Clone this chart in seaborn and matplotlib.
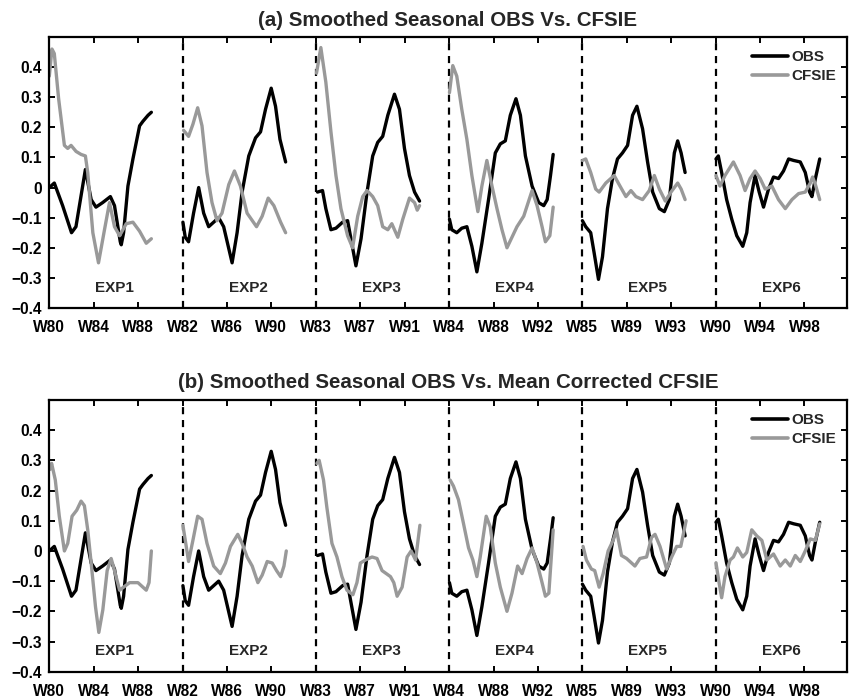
import numpy as np
import pandas as pd
import matplotlib
matplotlib.use("Agg")
import matplotlib.pyplot as plt
from matplotlib.lines import Line2D
import seaborn as sns

# ---------------- data ----------------
EXPERIMENTS = ["EXP1", "EXP2", "EXP3", "EXP4", "EXP5", "EXP6"]
EXP_START_WEEK = [80, 82, 83, 84, 85, 90]
SEGMENT_WEEKS = 12
TICK_OFFSETS = [0, 4, 8]

OBS_W = [
    [0, 0.45, 1.2, 2.0, 2.4, 3.25, 3.77, 4.2, 4.8, 5.5, 5.87, 6.39, 6.48, 6.69, 7.08, 7.53, 8.13, 8.43, 8.89, 9.19],
    [0.03, 0.24, 0.54, 0.99, 1.45, 1.9, 2.35, 2.8, 3.25, 3.7, 4.46, 4.91, 5.36, 5.96, 6.57, 7.02, 7.47, 7.98, 8.37, 8.77, 9.28],
    [0.15, 0.6, 0.9, 1.36, 1.81, 2.41, 2.86, 3.16, 3.61, 4.07, 4.61, 5.12, 5.57, 6.02, 6.48, 7.08, 7.53, 7.98, 8.43, 8.89, 9.34],
    [0.03, 0.24, 0.69, 1.14, 1.6, 2.05, 2.5, 2.95, 3.55, 4.16, 4.61, 5.06, 5.51, 6.02, 6.42, 6.87, 7.47, 8.07, 8.52, 8.83, 9.13, 9.37],
    [0, 0.3, 0.75, 1.05, 1.45, 1.81, 2.26, 2.71, 3.16, 3.61, 4.07, 4.52, 4.91, 5.42, 5.87, 6.33, 6.93, 7.38, 7.83, 8.28, 8.58, 8.89, 9.25],
    [0.03, 0.24, 0.54, 0.99, 1.45, 1.9, 2.44, 2.8, 3.1, 3.55, 3.92, 4.31, 4.76, 5.21, 5.66, 6.11, 6.57, 7.02, 7.62, 8.07, 8.46, 8.67, 8.98, 9.37],
]
OBS_V = [
    [0.0, 0.015, -0.06, -0.15, -0.13, 0.06, -0.04, -0.065, -0.05, -0.03, -0.06, -0.18, -0.19, -0.15, 0.005, 0.095, 0.205, 0.22, 0.24, 0.25],
    [-0.115, -0.165, -0.18, -0.085, 0.0, -0.085, -0.13, -0.115, -0.10, -0.13, -0.25, -0.15, -0.015, 0.105, 0.165, 0.185, 0.26, 0.33, 0.27, 0.16, 0.085],
    [-0.015, -0.01, -0.07, -0.14, -0.135, -0.115, -0.11, -0.17, -0.26, -0.17, -0.015, 0.105, 0.15, 0.17, 0.24, 0.31, 0.26, 0.13, 0.04, -0.015, -0.045],
    [-0.105, -0.14, -0.15, -0.135, -0.13, -0.195, -0.28, -0.185, -0.04, 0.115, 0.145, 0.155, 0.24, 0.295, 0.24, 0.105, 0.005, -0.05, -0.06, -0.04, 0.04, 0.11],
    [-0.11, -0.13, -0.15, -0.215, -0.305, -0.23, -0.07, 0.03, 0.095, 0.115, 0.14, 0.24, 0.27, 0.195, 0.085, -0.015, -0.07, -0.08, -0.04, 0.115, 0.155, 0.115, 0.05],
    [0.095, 0.105, 0.05, -0.04, -0.105, -0.16, -0.195, -0.15, -0.05, 0.04, -0.015, -0.065, -0.005, 0.035, 0.03, 0.055, 0.095, 0.09, 0.085, 0.05, -0.015, -0.03, 0.03, 0.095],
]

CFSIE_A_W = [
    [0, 0.24, 0.45, 0.84, 1.36, 1.66, 1.96, 2.41, 2.86, 3.25, 3.46, 3.92, 4.43, 4.97, 5.42, 5.87, 6.33, 6.93, 7.53, 8.13, 8.73, 9.19],
    [0.09, 0.54, 0.93, 1.36, 1.75, 2.2, 2.65, 3.1, 3.55, 4.16, 4.67, 5.21, 5.81, 6.66, 7.17, 7.71, 8.22, 8.83, 9.28],
    [0.06, 0.45, 0.9, 1.36, 1.81, 2.26, 2.86, 3.31, 3.77, 4.22, 4.61, 5.12, 5.57, 6.02, 6.48, 6.84, 7.38, 7.83, 8.43, 8.89, 9.13, 9.34],
    [0.03, 0.33, 0.69, 1.14, 1.6, 2.05, 2.59, 2.95, 3.4, 3.86, 4.31, 4.76, 5.21, 5.66, 6.11, 6.72, 7.47, 7.92, 8.37, 8.67, 9.07, 9.37],
    [0, 0.3, 0.75, 1.2, 1.51, 2.11, 2.86, 3.31, 3.92, 4.37, 4.82, 5.42, 6.02, 6.48, 6.93, 7.47, 7.98, 8.58, 8.89, 9.25],
    [0.03, 0.39, 0.84, 1.6, 2.2, 2.65, 3.1, 3.55, 4.01, 4.46, 5.06, 5.66, 6.27, 6.87, 7.47, 8.07, 8.52, 8.73, 8.98, 9.37],
]
CFSIE_A_V = [
    [0.37, 0.46, 0.445, 0.295, 0.14, 0.13, 0.14, 0.12, 0.11, 0.105, 0.05, -0.15, -0.25, -0.14, -0.05, -0.13, -0.16, -0.12, -0.115, -0.145, -0.185, -0.17],
    [0.19, 0.17, 0.21, 0.265, 0.205, 0.05, -0.05, -0.11, -0.085, 0.01, 0.055, 0.005, -0.085, -0.13, -0.095, -0.035, -0.06, -0.115, -0.15],
    [0.38, 0.465, 0.35, 0.185, 0.04, -0.07, -0.16, -0.2, -0.095, -0.03, -0.01, -0.03, -0.06, -0.13, -0.14, -0.12, -0.165, -0.105, -0.035, -0.05, -0.075, -0.06],
    [0.315, 0.405, 0.37, 0.26, 0.16, 0.04, -0.08, 0.005, 0.09, 0.005, -0.07, -0.14, -0.2, -0.165, -0.13, -0.095, -0.01, -0.06, -0.13, -0.18, -0.16, -0.065],
    [0.09, 0.095, 0.05, -0.005, -0.015, 0.015, 0.04, 0.01, -0.03, -0.01, -0.03, -0.04, -0.01, 0.04, -0.005, -0.045, -0.015, 0.015, -0.005, -0.04],
    [0.04, 0.005, 0.04, 0.085, 0.04, -0.01, 0.03, 0.055, 0.03, -0.005, 0.005, -0.04, -0.07, -0.04, -0.02, -0.015, 0.015, 0.035, 0.01, -0.04],
]

CFSIE_B_W = [
    [0.06, 0.21, 0.54, 0.9, 1.36, 1.66, 2.05, 2.47, 2.86, 3.16, 3.46, 3.77, 4.16, 4.46, 4.82, 5.21, 5.57, 5.87, 6.33, 6.69, 7.23, 7.98, 8.43, 8.73, 8.98, 9.19],
    [0.03, 0.33, 0.54, 0.93, 1.36, 1.75, 2.2, 2.8, 3.4, 3.86, 4.31, 4.97, 5.36, 5.81, 6.27, 6.78, 7.17, 7.62, 8.07, 8.46, 8.83, 9.13, 9.34],
    [0.09, 0.3, 0.69, 0.99, 1.45, 1.9, 2.35, 2.8, 3.34, 3.7, 4.01, 4.46, 5.06, 5.51, 5.96, 6.72, 7.02, 7.32, 7.77, 8.22, 8.58, 8.98, 9.37],
    [0.09, 0.39, 0.84, 1.3, 1.75, 2.14, 2.5, 2.8, 3.34, 3.7, 4.16, 4.61, 5.21, 5.66, 6.17, 6.57, 7.02, 7.47, 7.92, 8.37, 8.67, 8.98, 9.37],
    [0.06, 0.36, 0.81, 1.11, 1.51, 1.87, 2.32, 2.77, 3.07, 3.52, 3.98, 4.73, 5.18, 5.78, 6.23, 6.54, 6.99, 7.59, 8.04, 8.49, 8.86, 9.34],
    [0.03, 0.33, 0.54, 0.84, 1.3, 1.6, 1.96, 2.44, 2.8, 3.25, 3.7, 4.16, 4.61, 5.21, 5.81, 6.27, 6.72, 7.17, 7.62, 8.07, 8.52, 8.98, 9.37],
]
CFSIE_B_V = [
    [0.27, 0.29, 0.235, 0.115, 0.0, 0.025, 0.115, 0.135, 0.165, 0.15, 0.07, -0.04, -0.185, -0.27, -0.195, -0.065, -0.025, -0.065, -0.13, -0.12, -0.105, -0.105, -0.12, -0.13, -0.105, 0.0],
    [0.085, 0.015, -0.035, 0.035, 0.115, 0.105, 0.025, -0.05, -0.075, -0.04, 0.015, 0.055, 0.025, -0.02, -0.05, -0.105, -0.08, -0.035, -0.04, -0.065, -0.085, -0.05, 0.0],
    [0.29, 0.3, 0.235, 0.145, 0.025, -0.02, -0.085, -0.13, -0.145, -0.105, -0.04, -0.03, -0.02, -0.025, -0.065, -0.085, -0.105, -0.15, -0.12, -0.02, 0.0, -0.03, 0.085],
    [0.235, 0.215, 0.17, 0.09, 0.01, -0.03, -0.085, -0.02, 0.115, 0.08, -0.04, -0.12, -0.2, -0.14, -0.05, -0.075, -0.025, 0.01, -0.04, -0.105, -0.15, -0.14, 0.07],
    [0.015, -0.03, -0.06, -0.065, -0.12, -0.075, 0.0, 0.035, 0.07, -0.015, -0.025, -0.05, -0.025, -0.02, 0.045, 0.055, 0.015, -0.06, -0.02, 0.015, 0.015, 0.1],
    [-0.04, -0.11, -0.155, -0.085, -0.03, -0.02, 0.01, -0.02, -0.005, 0.07, 0.05, 0.035, -0.03, -0.01, -0.05, -0.03, -0.05, -0.015, -0.035, 0.0, 0.04, 0.035, 0.09],
]

Y_TICKS = [-0.4, -0.3, -0.2, -0.1, 0, 0.1, 0.2, 0.3, 0.4]
Y_TICK_LABELS = ["\u22120.4", "\u22120.3", "\u22120.2", "\u22120.1", "0", "0.1", "0.2", "0.3", "0.4"]
TITLES = ["(a) Smoothed Seasonal OBS Vs. CFSIE",
          "(b) Smoothed Seasonal OBS Vs. Mean Corrected CFSIE"]

# ---------------- build long tables ----------------
def build(cf_w, cf_v):
    rows = []
    for k, exp in enumerate(EXPERIMENTS):
        for w, v in zip(OBS_W[k], OBS_V[k]):
            rows.append(dict(exp=exp, series="OBS", x=k * SEGMENT_WEEKS + w, value=v))
        for w, v in zip(cf_w[k], cf_v[k]):
            rows.append(dict(exp=exp, series="CFSIE", x=k * SEGMENT_WEEKS + w, value=v))
    return pd.DataFrame(rows)

frames = [build(CFSIE_A_W, CFSIE_A_V), build(CFSIE_B_W, CFSIE_B_V)]

# ---------------- style ----------------
sns.set_theme(style="white")
plt.rcParams["font.family"] = ["Liberation Sans", "DejaVu Sans"]
plt.rcParams["font.weight"] = "bold"
plt.rcParams["axes.unicode_minus"] = True

fig = plt.figure(figsize=(8.51, 7.00), dpi=100)
W, H = 851.0, 700.0
left_px, right_px = 49.3, 846.7
panels_px = [(37.0, 308.0), (400.0, 671.7)]
title_y_px = [20.0, 382.0]

palette = {"OBS": "#000000", "CFSIE": "#999999"}

tick_pos = []
tick_lab = []
for k, s in enumerate(EXP_START_WEEK):
    for off in TICK_OFFSETS:
        tick_pos.append(k * SEGMENT_WEEKS + off)
        tick_lab.append(f"W{s + off}")

for i, df in enumerate(frames):
    top, bot = panels_px[i]
    ax = fig.add_axes([left_px / W, 1 - bot / H, (right_px - left_px) / W, (bot - top) / H])
    sns.lineplot(data=df, x="x", y="value", hue="series", hue_order=["OBS", "CFSIE"],
                 units="exp", estimator=None, sort=False, palette=palette,
                 linewidth=2.4, ax=ax, legend=False)
    for k in range(1, len(EXPERIMENTS)):
        ax.axvline(k * SEGMENT_WEEKS, color="black", lw=1.6, ls=(0, (3.2, 2.6)), zorder=1)
    for k, exp in enumerate(EXPERIMENTS):
        ax.text(k * SEGMENT_WEEKS + 5.9, -0.333, exp, ha="center", va="center",
                fontsize=11, fontweight="bold")
    ax.set_xlim(0, 71.8)
    ax.set_ylim(-0.4, 0.5)
    ax.set_xticks(tick_pos)
    ax.set_xticklabels(tick_lab, fontsize=11.2, fontweight="bold")
    ax.set_yticks(Y_TICKS)
    ax.set_yticklabels(Y_TICK_LABELS, fontsize=11.2, fontweight="bold")
    ax.set_xlabel("")
    ax.set_ylabel("")
    ax.tick_params(direction="in", length=4.5, width=1.4, top=True, right=True,
                   bottom=True, left=True, colors="black")
    ax.tick_params(axis="x", pad=8.5)
    ax.tick_params(axis="y", pad=5.5)
    for sp in ax.spines.values():
        sp.set_linewidth(1.6)
        sp.set_color("black")
        sp.set_visible(True)
    handles = [Line2D([0], [0], color=palette["OBS"], lw=2.6),
               Line2D([0], [0], color=palette["CFSIE"], lw=2.6)]
    ax.legend(handles, ["OBS", "CFSIE"], loc="upper right", frameon=False,
              prop=dict(size=11, weight="bold"), handlelength=2.4,
              handletextpad=0.2, labelspacing=0.32, borderaxespad=0.3,
              bbox_to_anchor=(1.0, 0.99))
    fig.text(0.5 * (left_px + right_px) / W, 1 - title_y_px[i] / H, TITLES[i],
             ha="center", va="center", fontsize=14.8, fontweight="bold")

fig.savefig("out.png", dpi=100)
